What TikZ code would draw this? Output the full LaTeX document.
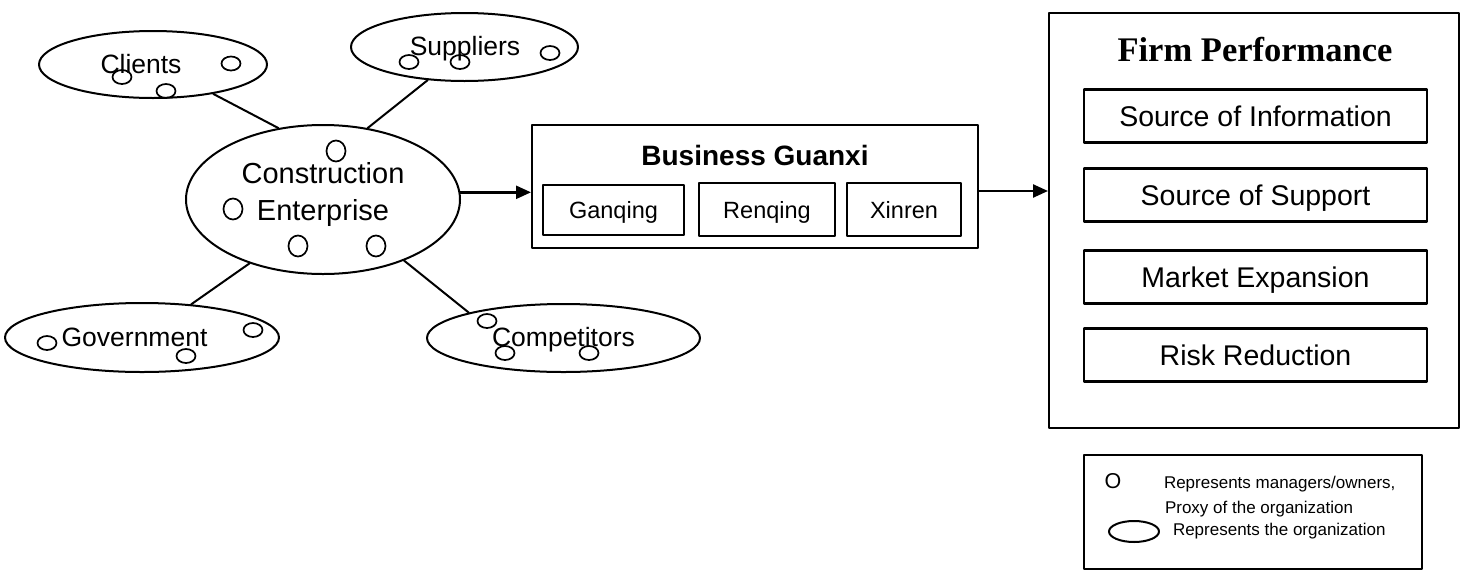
\documentclass[tikz,border=0pt]{standalone}
\usepackage{fontspec}
\setmainfont{Liberation Sans}
\newfontfamily\timesbold{Liberation Serif}
\usetikzlibrary{shapes.geometric,arrows.meta}
\newcommand{\fsz}[1]{\fontsize{#1}{#1}\selectfont}
\begin{document}
\begin{tikzpicture}[x=1pt, y=-1pt, line cap=round, line join=round, line width=2pt, >={Triangle[length=15pt,width=13pt]}]
	\tikzset{org/.style={draw, ellipse, inner sep=0pt},
		lbl/.style={anchor=base, inner sep=0pt, font=\fsz{26.5}},
		mgr/.style={line width=1.7pt},
		box/.style={draw, rectangle, inner sep=0pt},
		sub/.style={box, line width=2.2pt, text height=17pt, text depth=0pt, font=\fsz{23.5}},
		perf/.style={box, line width=2.2pt, minimum width=343pt, minimum height=53pt, text height=20.5pt, text depth=0pt, font=\fsz{28.5}},
		legtxt/.style={anchor=base west, inner sep=0pt, font=\fsz{17}}}
	\useasboundingbox (0,0) rectangle (1464,571);
	\node[org, minimum width=228pt, minimum height=67pt] (cl) at (153,64.5) {};
	\node[org, minimum width=227pt, minimum height=68pt] (sup) at (464.5,47) {};
	\node[org, minimum width=274pt, minimum height=149pt] (ce) at (323,199.5) {};
	\node[org, minimum width=274pt, minimum height=69pt] (gov) at (142,337.5) {};
	\node[org, minimum width=273pt, minimum height=68pt] (comp) at (563.5,338) {};
	\node[lbl] (cltxt) at (141,73) {Clients};
	\node[lbl] (suptxt) at (465,55) {Suppliers};
	\node[lbl, font=\fsz{29}] (cetxt) at (323,183) {Construction};
	\node[lbl, font=\fsz{29}] (cetxtb) at (323,220) {Enterprise};
	\node[lbl] (govtxt) at (134.5,346) {Government};
	\node[lbl] (comptxt) at (563.5,346) {Competitors};
	\draw (cl.-26) -- (ce.122);
	\draw (sup.222) -- (ce.58);
	\draw (gov.34) -- (ce.221);
	\draw (comp.165) -- (ce.-37);
	\foreach \p in {(231,63.5),(122,77),(166,91),(409,62),(460,62),(550,53),(47,343),(253,330),(186,356),(487,321),(505,353),(589,353)}
		\draw[mgr] \p ellipse [x radius=9.5pt, y radius=7pt];
	\foreach \p in {(336,151),(233,209),(298,246),(376,246)}
		\draw[mgr] \p ellipse [x radius=9.5pt, y radius=10.5pt];
	\node[box, minimum width=446pt, minimum height=123pt] (bg) at (755,186.5) {};
	\node[anchor=base, inner sep=0pt, font=\bfseries\fsz{28}] (bgtxt) at (755,165) {Business Guanxi};
	\node[sub, minimum width=141pt, minimum height=50pt] (gq) at (613.5,210) {Ganqing};
	\node[sub, minimum width=136pt, minimum height=53pt] (rq) at (767,209.5) {Renqing};
	\node[sub, minimum width=114pt, minimum height=53pt] (xr) at (904,209.5) {Xinren};
	\node[box, minimum width=410pt, minimum height=415pt] (fp) at (1254,220.5) {};
	\node[anchor=base, inner sep=0pt, font=\timesbold\bfseries\fsz{34.5}] (fptxt) at (1255,61) {Firm Performance};
	\node[perf] (info) at (1255.5,116) {Source of Information};
	\node[perf] (supp) at (1255.5,195) {Source of Support};
	\node[perf] (mkt) at (1255.5,277) {Market Expansion};
	\node[perf] (risk) at (1255.5,355) {Risk Reduction};
	\draw[->, line width=2.4pt] (ce.3) -- (ce.3 -| bg.west);
	\draw[->, line width=2.4pt] ([yshift=-4.5pt]bg.east) -- ([yshift=-4.5pt]bg.east -| fp.west);
	\node[box, minimum width=338pt, minimum height=114pt] (leg) at (1253,512) {};
	\node[inner sep=0pt, font=\fsz{21.5}] (lego) at (1113,481) {O};
	\node[legtxt] (legta) at (1163,488) {Represents managers/owners,};
	\node[legtxt] (legtb) at (1164,513) {Proxy of the organization};
	\node[org, minimum width=50pt, minimum height=21pt] (legov) at (1134,531.5) {};
	\node[legtxt] (legtc) at (1172,535) {Represents the organization};
\end{tikzpicture}
\end{document}
